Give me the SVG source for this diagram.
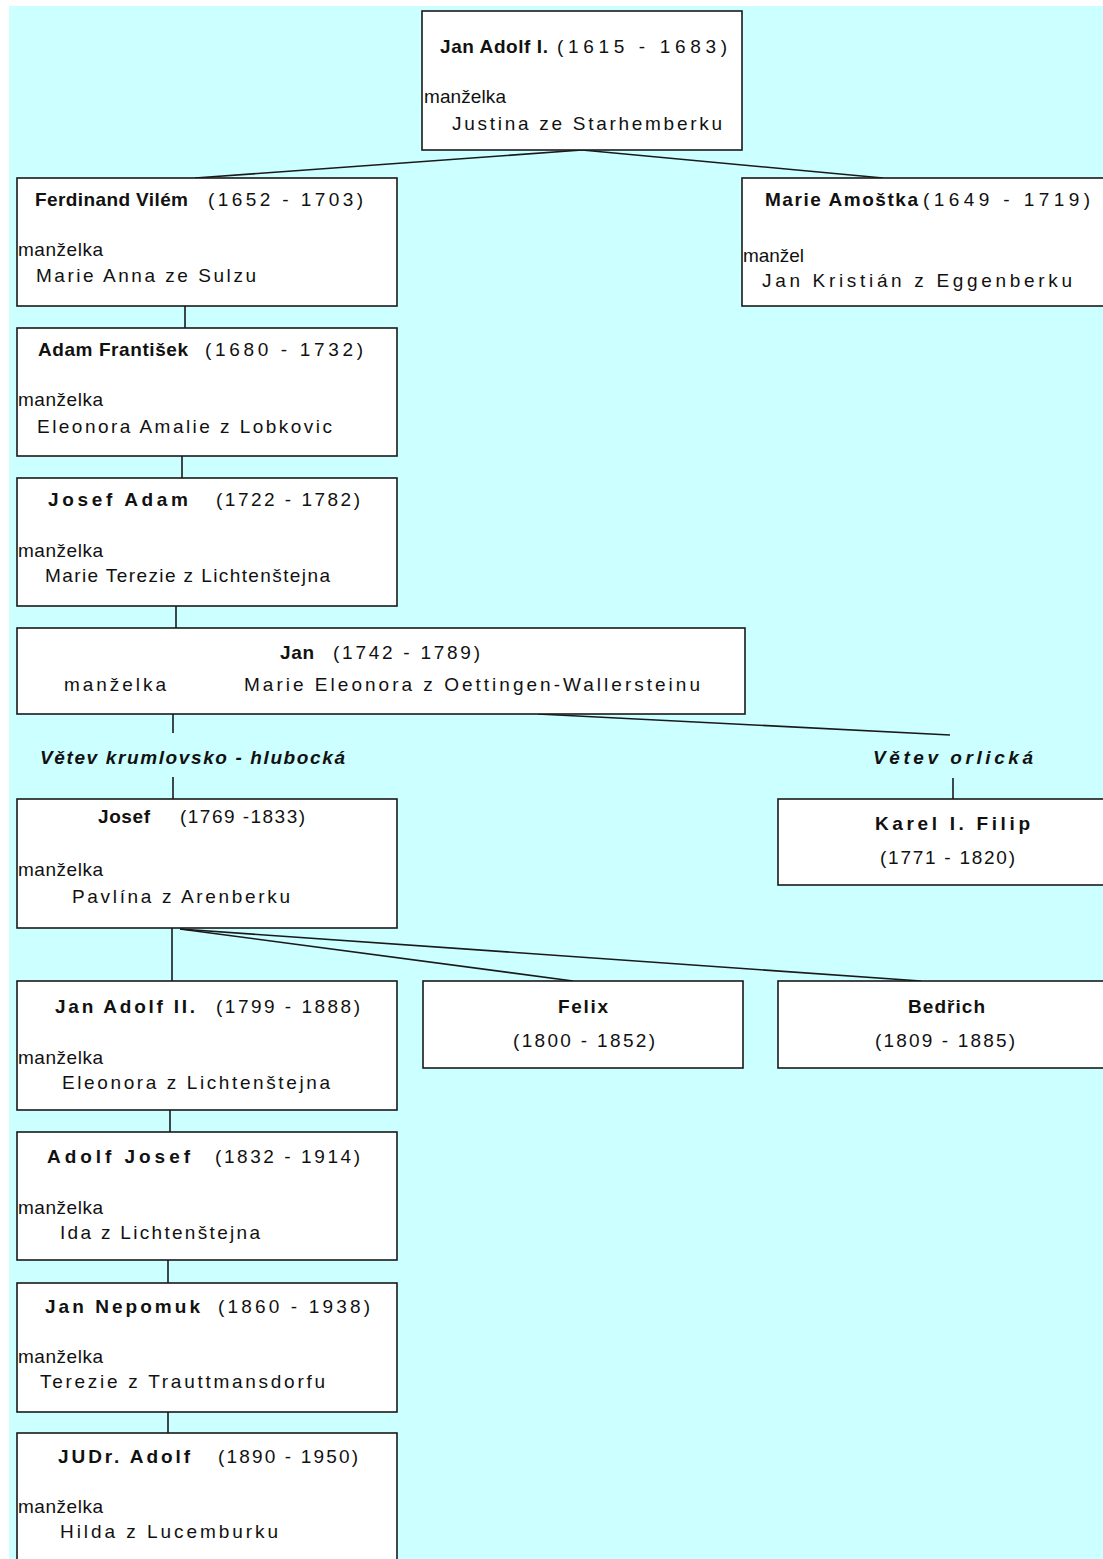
<svg xmlns="http://www.w3.org/2000/svg" width="1103" height="1559" viewBox="0 0 1103 1559">
<style>
.bg{fill:#ccffff}
.box{fill:#ffffff;stroke:#1a1a1a;stroke-width:1.6}
.ln{stroke:#1a1a1a;stroke-width:1.6;fill:none}
text{font-family:"Liberation Sans",Arial,sans-serif;font-size:19px;fill:#111}
.b{font-weight:bold}
.bi{font-weight:bold;font-style:italic}
</style>
<rect x="0" y="0" width="1103" height="1559" fill="#ffffff"/>
<rect class="bg" x="9" y="6" width="1094" height="1553"/>
<g id="connectors">
<line class="ln" x1="582" y1="150" x2="195" y2="178"/>
<line class="ln" x1="582" y1="150" x2="883" y2="178"/>
<line class="ln" x1="185" y1="306" x2="185" y2="328"/>
<line class="ln" x1="182" y1="456" x2="182" y2="478"/>
<line class="ln" x1="176" y1="606" x2="176" y2="628"/>
<line class="ln" x1="173" y1="714" x2="173" y2="733"/>
<line class="ln" x1="173" y1="777" x2="173" y2="799"/>
<line class="ln" x1="538" y1="714" x2="950" y2="735"/>
<line class="ln" x1="953" y1="778" x2="953" y2="799"/>
<line class="ln" x1="172" y1="928" x2="172" y2="981"/>
<line class="ln" x1="180" y1="929" x2="573" y2="981"/>
<line class="ln" x1="180" y1="929" x2="921" y2="981"/>
<line class="ln" x1="170" y1="1110" x2="170" y2="1132"/>
<line class="ln" x1="168" y1="1260" x2="168" y2="1283"/>
<line class="ln" x1="168" y1="1412" x2="168" y2="1433"/>
</g>
<g id="jan-adolf-i">
<rect class="box" x="422" y="11" width="320" height="139"/>
<text class="b" x="440" y="53" textLength="108" lengthAdjust="spacing">Jan Adolf I.</text>
<text x="557" y="53" textLength="170" lengthAdjust="spacing">(1615 - 1683)</text>
<text x="424" y="103" textLength="82" lengthAdjust="spacing">manželka</text>
<text x="452" y="130" textLength="270" lengthAdjust="spacing">Justina ze Starhemberku</text>
</g>
<g id="ferdinand-vilem">
<rect class="box" x="17" y="178" width="380" height="128"/>
<text class="b" x="35" y="206" textLength="153" lengthAdjust="spacing">Ferdinand Vilém</text>
<text x="208" y="206" textLength="155" lengthAdjust="spacing">(1652 - 1703)</text>
<text x="18" y="256" textLength="85" lengthAdjust="spacing">manželka</text>
<text x="36" y="282" textLength="220" lengthAdjust="spacing">Marie Anna ze Sulzu</text>
</g>
<g id="marie-amostka">
<rect class="box" x="742" y="178" width="370" height="128"/>
<text class="b" x="765" y="206" textLength="153" lengthAdjust="spacing">Marie Amoštka</text>
<text x="923" y="206" textLength="167" lengthAdjust="spacing">(1649 - 1719)</text>
<text x="743" y="262" textLength="61" lengthAdjust="spacing">manžel</text>
<text x="762" y="287" textLength="310" lengthAdjust="spacing">Jan Kristián z Eggenberku</text>
</g>
<g id="adam-frantisek">
<rect class="box" x="17" y="328" width="380" height="128"/>
<text class="b" x="38" y="356" textLength="150" lengthAdjust="spacing">Adam František</text>
<text x="205" y="356" textLength="158" lengthAdjust="spacing">(1680 - 1732)</text>
<text x="18" y="406" textLength="85" lengthAdjust="spacing">manželka</text>
<text x="37" y="433" textLength="295" lengthAdjust="spacing">Eleonora Amalie z Lobkovic</text>
</g>
<g id="josef-adam">
<rect class="box" x="17" y="478" width="380" height="128"/>
<text class="b" x="48" y="506" textLength="140" lengthAdjust="spacing">Josef Adam</text>
<text x="216" y="506" textLength="144" lengthAdjust="spacing">(1722 - 1782)</text>
<text x="18" y="557" textLength="85" lengthAdjust="spacing">manželka</text>
<text x="45" y="582" textLength="285" lengthAdjust="spacing">Marie Terezie z Lichtenštejna</text>
</g>
<g id="jan">
<rect class="box" x="17" y="628" width="728" height="86"/>
<text class="b" x="280" y="659" textLength="34" lengthAdjust="spacing">Jan</text>
<text x="333" y="659" textLength="147" lengthAdjust="spacing">(1742 - 1789)</text>
<text x="64" y="691" textLength="102" lengthAdjust="spacing">manželka</text>
<text x="244" y="691" textLength="456" lengthAdjust="spacing">Marie Eleonora z Oettingen-Wallersteinu</text>
</g>
<g id="vetev-krumlovsko-hlubocka">
<text class="bi" x="40" y="764" textLength="305" lengthAdjust="spacing">Větev krumlovsko - hlubocká</text>
</g>
<g id="vetev-orlicka">
<text class="bi" x="873" y="764" textLength="160" lengthAdjust="spacing">Větev orlická</text>
</g>
<g id="josef">
<rect class="box" x="17" y="799" width="380" height="129"/>
<text class="b" x="98" y="823" textLength="52" lengthAdjust="spacing">Josef</text>
<text x="180" y="823" textLength="125" lengthAdjust="spacing">(1769 -1833)</text>
<text x="18" y="876" textLength="85" lengthAdjust="spacing">manželka</text>
<text x="72" y="903" textLength="218" lengthAdjust="spacing">Pavlína z Arenberku</text>
</g>
<g id="karel-i-filip">
<rect class="box" x="778" y="799" width="334" height="86"/>
<text class="b" x="875" y="830" textLength="155" lengthAdjust="spacing">Karel I. Filip</text>
<text x="880" y="864" textLength="135" lengthAdjust="spacing">(1771 - 1820)</text>
</g>
<g id="jan-adolf-ii">
<rect class="box" x="17" y="981" width="380" height="129"/>
<text class="b" x="55" y="1013" textLength="140" lengthAdjust="spacing">Jan Adolf II.</text>
<text x="216" y="1013" textLength="144" lengthAdjust="spacing">(1799 - 1888)</text>
<text x="18" y="1064" textLength="85" lengthAdjust="spacing">manželka</text>
<text x="62" y="1089" textLength="268" lengthAdjust="spacing">Eleonora z Lichtenštejna</text>
</g>
<g id="felix">
<rect class="box" x="423" y="981" width="320" height="87"/>
<text class="b" x="558" y="1013" textLength="50" lengthAdjust="spacing">Felix</text>
<text x="513" y="1047" textLength="142" lengthAdjust="spacing">(1800 - 1852)</text>
</g>
<g id="bedrich">
<rect class="box" x="778" y="981" width="334" height="87"/>
<text class="b" x="908" y="1013" textLength="77" lengthAdjust="spacing">Bedřich</text>
<text x="875" y="1047" textLength="140" lengthAdjust="spacing">(1809 - 1885)</text>
</g>
<g id="adolf-josef">
<rect class="box" x="17" y="1132" width="380" height="128"/>
<text class="b" x="47" y="1163" textLength="143" lengthAdjust="spacing">Adolf Josef</text>
<text x="215" y="1163" textLength="145" lengthAdjust="spacing">(1832 - 1914)</text>
<text x="18" y="1214" textLength="85" lengthAdjust="spacing">manželka</text>
<text x="60" y="1239" textLength="200" lengthAdjust="spacing">Ida z Lichtenštejna</text>
</g>
<g id="jan-nepomuk">
<rect class="box" x="17" y="1283" width="380" height="129"/>
<text class="b" x="45" y="1313" textLength="155" lengthAdjust="spacing">Jan Nepomuk</text>
<text x="218" y="1313" textLength="152" lengthAdjust="spacing">(1860 - 1938)</text>
<text x="18" y="1363" textLength="85" lengthAdjust="spacing">manželka</text>
<text x="40" y="1388" textLength="285" lengthAdjust="spacing">Terezie z Trauttmansdorfu</text>
</g>
<g id="judr-adolf">
<rect class="box" x="17" y="1433" width="380" height="140"/>
<text class="b" x="58" y="1463" textLength="132" lengthAdjust="spacing">JUDr. Adolf</text>
<text x="218" y="1463" textLength="140" lengthAdjust="spacing">(1890 - 1950)</text>
<text x="18" y="1513" textLength="85" lengthAdjust="spacing">manželka</text>
<text x="60" y="1538" textLength="218" lengthAdjust="spacing">Hilda z Lucemburku</text>
</g>
</svg>
